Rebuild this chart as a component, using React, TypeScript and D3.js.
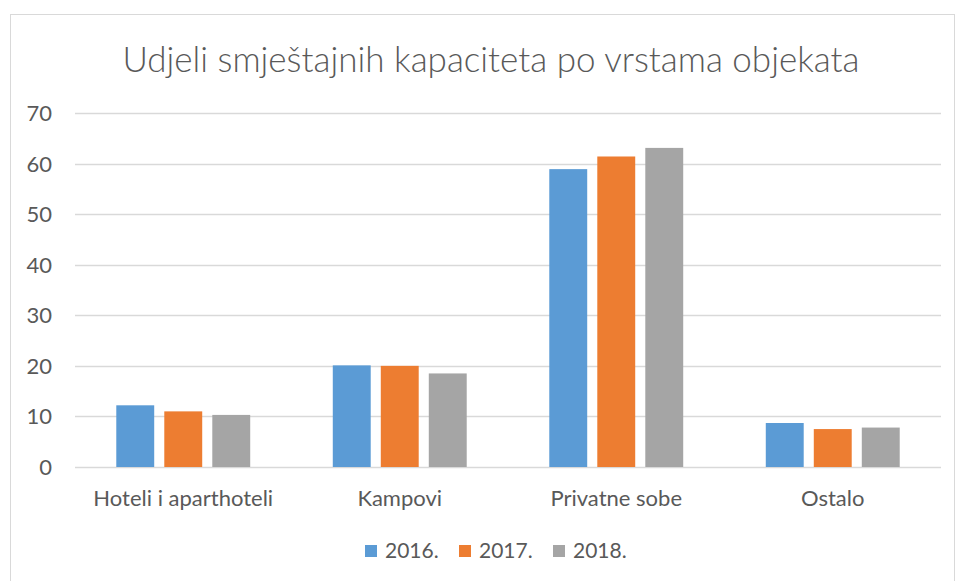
import React from "react";
import * as d3 from "d3";

const categories = ["Hoteli i aparthoteli", "Kampovi", "Privatne sobe", "Ostalo"];
const seriesNames = ["2016.", "2017.", "2018."];
const values2016 = [12.2, 20.1, 58.9, 8.7];
const values2017 = [11.0, 20.0, 61.4, 7.5];
const values2018 = [10.3, 18.5, 63.1, 7.8];
const yTicks = [0, 10, 20, 30, 40, 50, 60, 70];
const colors = ["#5b9bd5", "#ed7d31", "#a5a5a5"];

const W = 956;
const H = 581;
const FONT = "Lato, 'Open Sans', sans-serif";
const TEXT = "#595959";

export default function App() {
  const series = [values2016, values2017, values2018];
  const left = 75, right = 941, top = 113, bottom = 467;
  const x0 = d3.scaleBand<string>().domain(categories).range([left, right]).paddingInner(0).paddingOuter(0);
  const x1 = d3.scaleBand<string>().domain(seriesNames).range([0, x0.bandwidth()]).paddingInner(0.21).paddingOuter(0.86);
  const y = d3.scaleLinear().domain([0, 70]).range([bottom, top]);

  const legendX = [365, 459, 553];

  return (
    <div style={{ position: "absolute", left: 0, top: 0 }}>
      <svg width={W} height={H} style={{ display: "block" }}>
        <rect x={0} y={0} width={W} height={H} fill="#fff" />
        <rect x={10.5} y={14.5} width={944} height={H + 10} fill="#fff" stroke="#d9d9d9" strokeWidth={1} />
        <text x={491} y={72} textAnchor="middle" fontFamily={FONT} fontWeight={300} fontSize={35} fill={TEXT}>
          Udjeli smještajnih kapaciteta po vrstama objekata
        </text>
        {yTicks.map((t) => (
          <g key={t}>
            <line x1={left} x2={right} y1={Math.round(y(t)) + 0.5} y2={Math.round(y(t)) + 0.5} stroke="#d9d9d9" strokeWidth={1.3} />
            <text x={52} y={y(t) + 8} textAnchor="end" fontFamily={FONT} fontSize={22} fill={TEXT}>
              {t}
            </text>
          </g>
        ))}
        {categories.map((c, ci) => (
          <g key={c} transform={`translate(${x0(c)},0)`}>
            {seriesNames.map((s, si) => (
              <rect
                key={s}
                x={x1(s)}
                y={y(series[si][ci])}
                width={x1.bandwidth()}
                height={y(0) - y(series[si][ci])}
                fill={colors[si]}
              />
            ))}
            <text x={x0.bandwidth() / 2} y={506} textAnchor="middle" fontFamily={FONT} fontSize={22} fill={TEXT}>
              {c}
            </text>
          </g>
        ))}
        {seriesNames.map((s, si) => (
          <g key={s}>
            <rect x={legendX[si]} y={545} width={12} height={12} fill={colors[si]} />
            <text x={legendX[si] + 20} y={558} fontFamily={FONT} fontSize={21} fill={TEXT}>
              {s}
            </text>
          </g>
        ))}
      </svg>
    </div>
  );
}
